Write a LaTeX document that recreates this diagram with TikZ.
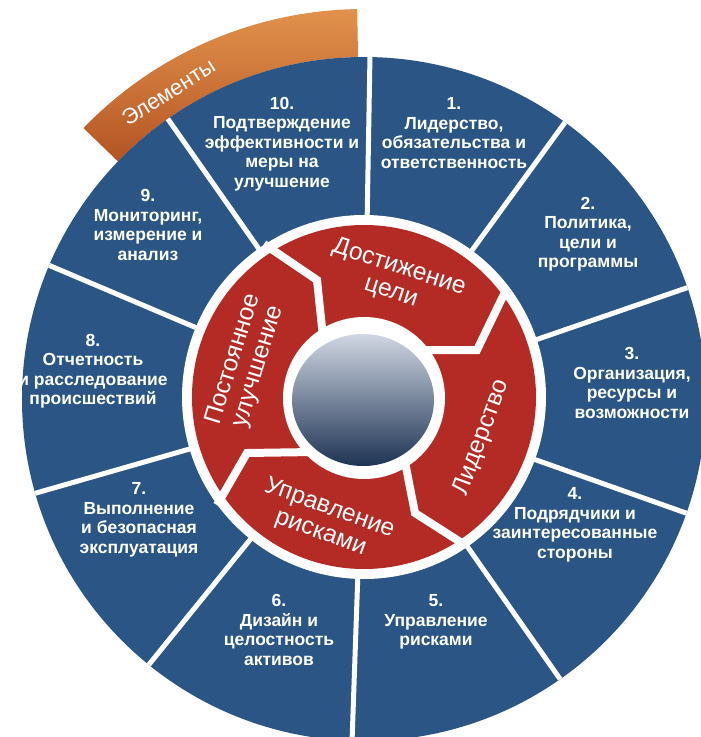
\documentclass[tikz,border=0pt]{standalone}
\usepackage{fontspec}
\setmainfont{Liberation Sans}
\definecolor{segblue}{RGB}{42,85,132}
\definecolor{ringred}{RGB}{180,42,36}
\definecolor{orA}{RGB}{226,146,76}
\definecolor{orB}{RGB}{180,84,36}
\definecolor{sphTop}{RGB}{208,214,226}
\definecolor{sphMid}{RGB}{66,88,122}
\definecolor{sphBot}{RGB}{30,52,84}
\tikzset{
  seglabel/.style={text=white, font=\bfseries\fontsize{17.5}{19.5}\selectfont, align=center, inner sep=0pt},
  ringlabel/.style={text=white, font=\fontsize{24.5}{26}\selectfont, align=center, inner sep=0pt},
  divider/.style={white, line width=5pt},
  gapline/.style={white, line width=8pt, line join=miter},
}
\begin{document}
\begin{tikzpicture}[x=1pt,y=1pt]
\useasboundingbox (-364,-340) rectangle (337,397);
\clip (-364,-340) rectangle (337,397);
\fill[white] (-364,-340) rectangle (337,397);
\begin{scope}[shift={(0,-2)}]
  % orange tab
  \shade[top color=orA, bottom color=orB] (91:390) arc (91:136:390) -- (136:342) arc (136:91:342) -- cycle;
  \node[text=white, font=\fontsize{22}{22}\selectfont, inner sep=0pt, rotate=32.5] (tab) at (122.5:364) {Элементы};
  % blue disc
  \fill[segblue] (0,0) circle (342);
  \foreach \a in {89,54,19,-19.5,-55,-92,-129,-164,157,125}
    \draw[divider] (\a:178) -- (\a:342);
\end{scope}
% white ring and red ring
\fill[white] (0,0) circle (182);
\fill[ringred] (0,0) circle (172);
\draw[gapline] (-41,60) -- (-47,117) -- (-100,153);
\draw[gapline] (60,47) -- (113,47) -- (143,109);
\draw[gapline] (40,-60) -- (51,-116) -- (101,-148);
\draw[gapline] (-50,-55) -- (-117,-56) -- (-147,-108);
\fill[white] (0,-1) circle (81);
\shade[top color=sphTop, middle color=sphMid, bottom color=sphBot] (-1,-3) ellipse (71 and 66);
% ring labels
\node[ringlabel, rotate=-18] (rGoal) at (31,117) {Достижение\\цели};
\node[ringlabel, rotate=70] (rLead) at (118,-41) {Лидерство};
\node[ringlabel, rotate=-20] (rRisk) at (-39,-124) {Управление\\рисками};
\node[ringlabel, rotate=73] (rImpr) at (-118,34) {Постоянное\\улучшение};
% segment labels
\node[seglabel] (l10) at (-82,253) {10.\\Подтверждение\\эффективности и\\меры на\\улучшение};
\node[seglabel] (l1) at (90,264) {1.\\Лидерство,\\обязательства и\\ответственность};
\node[seglabel] (l2) at (224,163) {2.\\Политика,\\цели и\\программы};
\node[seglabel] (l3) at (268,14) {3.\\Организация,\\ресурсы и\\возможности};
\node[seglabel] (l4) at (211,-128) {4.\\Подрядчики и\\заинтересованные\\стороны};
\node[seglabel] (l5) at (72,-225) {5.\\Управление\\рисками};
\node[seglabel] (l6) at (-85,-233) {6.\\Дизайн и\\целостность\\активов};
\node[seglabel] (l7) at (-225,-123) {7.\\Выполнение\\и безопасная\\эксплуатация};
\node[seglabel] (l8) at (-271,26) {8.\\Отчетность\\и расследование\\происшествий};
\node[seglabel] (l9) at (-216,172) {9.\\Мониторинг,\\измерение и\\анализ};
\end{tikzpicture}
\end{document}
